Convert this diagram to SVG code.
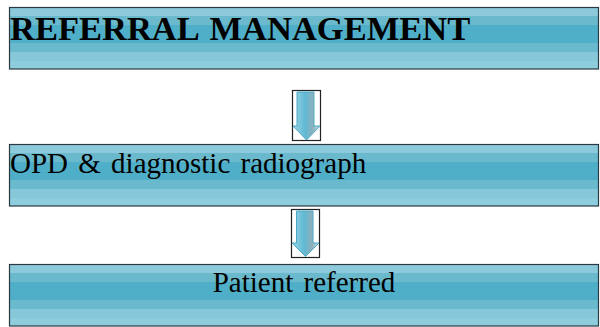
<svg xmlns="http://www.w3.org/2000/svg" width="600" height="327" viewBox="0 0 600 327">
<defs>
<linearGradient id="stripes" x1="0" y1="0" x2="0" y2="1">
<stop offset="0" stop-color="#8ccadb"/><stop offset="0.137" stop-color="#8ccadb"/>
<stop offset="0.137" stop-color="#6ab9cc"/><stop offset="0.282" stop-color="#6ab9cc"/>
<stop offset="0.282" stop-color="#50afc8"/><stop offset="0.573" stop-color="#50afc8"/>
<stop offset="0.573" stop-color="#6ab9cc"/><stop offset="0.718" stop-color="#6ab9cc"/>
<stop offset="0.718" stop-color="#86c7d9"/><stop offset="0.863" stop-color="#86c7d9"/>
<stop offset="0.863" stop-color="#8ecddd"/><stop offset="1" stop-color="#8ecddd"/>
</linearGradient>
<linearGradient id="arrowfill" x1="0" y1="0" x2="1" y2="0">
<stop offset="0" stop-color="#9fd6e6"/>
<stop offset="0.45" stop-color="#5fb9d4"/>
<stop offset="0.75" stop-color="#8fb0bb"/>
<stop offset="1" stop-color="#c8e6ef"/>
</linearGradient>
</defs>
<style>
.box{fill:url(#stripes);stroke:#2b3a40;stroke-width:1.2}
.frame{fill:#ffffff;stroke:#222222;stroke-width:1.2}
.arrow{fill:url(#arrowfill);stroke:#4aa9c6;stroke-width:1}
.t{font-family:"Liberation Serif","Times New Roman",serif;fill:#000000}
</style>
<g id="connectors">
<g id="arrow1">
<rect class="frame" x="292.5" y="90.5" width="28" height="50"/>
<path class="arrow" d="M297,92 H314 V126 H320 L306.5,140 L293,126 H297 Z"/>
</g>
<g id="arrow2">
<rect class="frame" x="291.5" y="209.5" width="28" height="48"/>
<path class="arrow" d="M296.5,211 H313 V243 H319 L305.5,256.5 L292,243 H296.5 Z"/>
</g>
</g>
<g id="node1">
<rect class="box" x="9.5" y="7.5" width="589" height="61.5"/>
<text class="t" x="10" y="40" font-size="34.5" font-weight="bold" word-spacing="3">REFERRAL MANAGEMENT</text>
</g>
<g id="node2">
<rect class="box" x="9.5" y="144.5" width="589" height="61.5"/>
<text class="t" x="10" y="173" font-size="29" word-spacing="3">OPD &amp; diagnostic radiograph</text>
</g>
<g id="node3">
<rect class="box" x="9.5" y="264.5" width="589" height="61.5"/>
<text class="t" x="304" y="292" font-size="29" text-anchor="middle" word-spacing="3">Patient referred</text>
</g>
</svg>
